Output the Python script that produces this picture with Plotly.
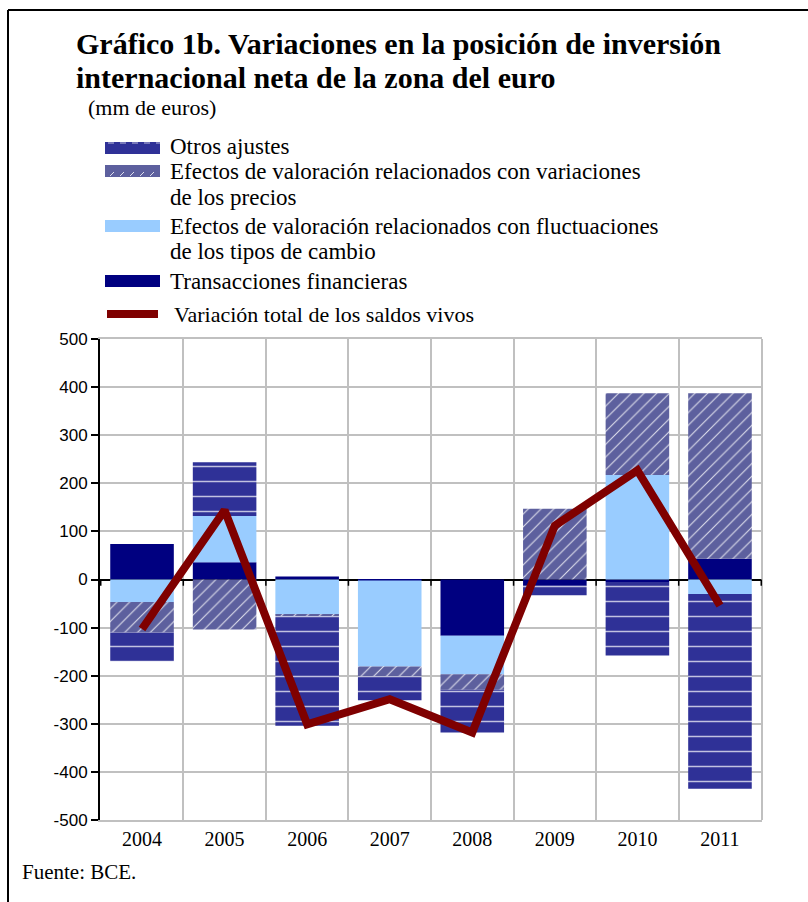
import plotly.graph_objects as go

years = ["2004", "2005", "2006", "2007", "2008", "2009", "2010", "2011"]
transacciones = [74, 36, 6, -2, -117, -13, -5, 43]
tipos_cambio = [-47, 96, -73, -179, -80, 0, 217, -30]
precios = [-63, -104, -3, -20, -32, 147, 170, 344]
otros_ajustes = [-60, 112, -228, -50, -89, -20, -153, -405]
variacion_total = [-103, 144, -301, -249, -318, 112, 227, -54]

y_ticks = [500, 400, 300, 200, 100, 0, -100, -200, -300, -400, -500]

W, H = 808, 902
L, R, T, B = 100, 46, 339, 82
PW, PH = W - L - R, H - T - B


def px(x):
    return (x - L) / PW


def py(y):
    return (H - B - y) / PH


SERIF = "Liberation Serif"
C_OTROS = "#2f3197"
C_PREC = "#5d609e"
C_FX = "#99ccff"
C_TRANS = "#000080"
C_LINE = "#7f0000"

fig = go.Figure()
fig.add_trace(go.Bar(x=years, y=transacciones, name="Transacciones financieras",
                     marker=dict(color=C_TRANS, line=dict(width=0))))
fig.add_trace(go.Bar(x=years, y=tipos_cambio,
                     name="Efectos de valoración relacionados con fluctuaciones de los tipos de cambio",
                     marker=dict(color=C_FX, line=dict(width=0))))
fig.add_trace(go.Bar(x=years, y=precios,
                     name="Efectos de valoración relacionados con variaciones de los precios",
                     marker=dict(color=C_PREC, line=dict(width=0),
                                 pattern=dict(shape="/", fgcolor="white", bgcolor=C_PREC,
                                              size=9, solidity=0.12, fgopacity=0.8))))
fig.add_trace(go.Bar(x=years, y=otros_ajustes, name="Otros ajustes",
                     marker=dict(color=C_OTROS, line=dict(width=0),
                                 pattern=dict(shape="-", fgcolor="white", bgcolor=C_OTROS,
                                              size=15, solidity=0.1, fgopacity=0.7))))
fig.add_trace(go.Scatter(x=years, y=variacion_total, mode="lines",
                         name="Variación total de los saldos vivos",
                         line=dict(color=C_LINE, width=8)))

shapes = []
annotations = []

# frame
shapes.append(dict(type="line", xref="paper", yref="paper", x0=px(8), x1=px(8), y0=py(902), y1=py(10),
                   line=dict(color="black", width=2)))
shapes.append(dict(type="line", xref="paper", yref="paper", x0=px(8), x1=px(808), y0=py(10), y1=py(10),
                   line=dict(color="black", width=2)))
# right border of plot
shapes.append(dict(type="line", xref="paper", yref="paper", x0=1, x1=1, y0=0, y1=1,
                   line=dict(color="#c0c0c0", width=2)))

# ticks on zero line at category boundaries
for i in range(len(years) + 1):
    shapes.append(dict(type="line", xref="x", yref="y", x0=i - 0.5, x1=i - 0.5, y0=0, y1=-13,
                       line=dict(color="black", width=1.5)))


def text(t, x, y, size, bold=False):
    annotations.append(dict(text=f"<b>{t}</b>" if bold else t, xref="paper", yref="paper",
                            x=px(x), y=py(y), xanchor="left", yanchor="middle", showarrow=False,
                            font=dict(family=SERIF, size=size, color="black")))


# title
text("Gráfico 1b. Variaciones en la posición de inversión", 74, 43, 30, bold=True)
text("internacional neta de la zona del euro", 74, 77, 30, bold=True)
text("(mm de euros)", 86, 108, 22)
text("Fuente: BCE.", 20, 872, 21)

# legend
leg_items = [
    ("Otros ajustes", None, 146, C_OTROS, "-"),
    ("Efectos de valoración relacionados con variaciones", "de los precios", 171, C_PREC, "/"),
    ("Efectos de valoración relacionados con fluctuaciones", "de los tipos de cambio", 226, C_FX, None),
    ("Transacciones financieras", None, 281, C_TRANS, None),
]
for t1, t2, yy, col, pat in leg_items:
    sy = 148 if yy == 146 else yy
    shapes.append(dict(type="rect", xref="paper", yref="paper", x0=px(105), x1=px(160),
                       y0=py(sy + 6), y1=py(sy - 6), fillcolor=col, line=dict(width=0)))
    if pat == "-":
        for xs in range(108, 158, 12):
            shapes.append(dict(type="line", xref="paper", yref="paper", x0=px(xs), x1=px(xs + 6),
                               y0=py(sy - 5), y1=py(sy - 5), line=dict(color="rgba(255,255,255,0.7)", width=1)))
    elif pat == "/":
        for xs in range(110, 158, 10):
            shapes.append(dict(type="line", xref="paper", yref="paper", x0=px(xs), x1=px(xs + 4),
                               y0=py(sy + 5), y1=py(sy + 1), line=dict(color="rgba(255,255,255,0.8)", width=1)))
    text(t1, 168, yy, 23)
    if t2:
        text(t2, 168, yy + 26, 23)
shapes.append(dict(type="line", xref="paper", yref="paper", x0=px(107), x1=px(158),
                   y0=py(314), y1=py(314), line=dict(color=C_LINE, width=8)))
text("Variación total de los saldos vivos", 172, 314, 22)

fig.update_layout(
    width=W, height=H,
    margin=dict(l=L, r=R, t=T, b=B, pad=0),
    paper_bgcolor="white", plot_bgcolor="white",
    barmode="relative", bargap=0.23,
    showlegend=False,
    shapes=shapes, annotations=annotations,
    xaxis=dict(type="category", tickson="boundaries", showgrid=True, gridcolor="#c0c0c0", gridwidth=2,
               showline=True, linecolor="#c0c0c0", linewidth=2, mirror=True, ticks="",
               tickfont=dict(family=SERIF, size=20, color="black"), fixedrange=True),
    yaxis=dict(range=[-500, 500], tickvals=y_ticks, ticktext=[str(v) for v in y_ticks],
               showgrid=True, gridcolor="#c0c0c0", gridwidth=2,
               zeroline=True, zerolinecolor="black", zerolinewidth=2,
               showline=True, linecolor="black", linewidth=2, ticks="outside", ticklen=7,
               tickcolor="black", tickwidth=2,
               tickfont=dict(family="Liberation Sans", size=17, color="black"), fixedrange=True),
)

fig.write_html("out.html")
